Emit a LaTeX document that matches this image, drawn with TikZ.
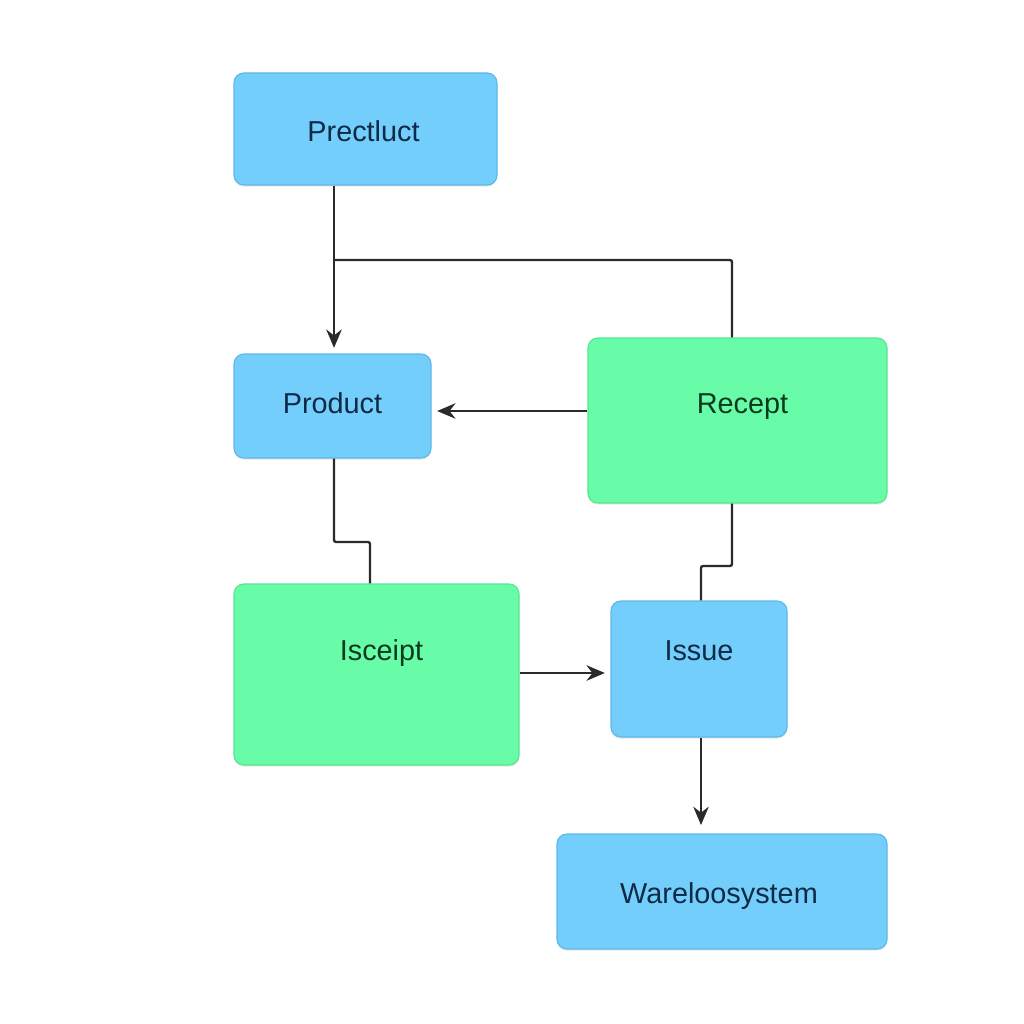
\documentclass[tikz,border=0pt]{standalone}
\usepackage{fontspec}
\setmainfont{Liberation Sans}
\usetikzlibrary{fit,arrows.meta,shadows}
\definecolor{bfill}{HTML}{74CEFB}
\definecolor{bdraw}{HTML}{5DB8E8}
\definecolor{gfill}{HTML}{69FCA8}
\definecolor{gdraw}{HTML}{56E592}
\definecolor{btext}{HTML}{0E2A47}
\definecolor{gtext}{HTML}{0B3A1E}
\definecolor{lcol}{HTML}{2A2A2A}
\tikzset{
  boxbase/.style={rounded corners=7pt, inner sep=0pt, line width=0.8pt,
    drop shadow={opacity=0.18, shadow xshift=0pt, shadow yshift=-1.2pt}},
  bluebox/.style={boxbase, fill=bfill, draw=bdraw},
  greenbox/.style={boxbase, fill=gfill, draw=gdraw},
  btxt/.style={text=btext, font=\fontsize{20.5}{24}\selectfont},
  gtxt/.style={text=gtext, font=\fontsize{20.5}{24}\selectfont},
  conn/.style={draw=lcol, line width=1.7pt, rounded corners=1.5pt},
  arr/.style={conn, shorten >=4pt, -{Stealth[length=13pt,width=11pt]}}
}
\begin{document}
\begin{tikzpicture}[x=0.025cm,y=-0.025cm]
\useasboundingbox[fill=white] (0,0) rectangle (1024,1024);
\node[bluebox, fit={(234,73) (497,185)},
  label={[btxt, shift={(-2,2)}]center:Prectluct}] (pre) {};
\node[bluebox, fit={(234,354) (431,458)},
  label={[btxt, shift={(0,-3)}]center:Product}] (prod) {};
\node[greenbox, fit={(588,338) (887,503)},
  label={[gtxt, shift={(5,-14)}]center:Recept}] (rec) {};
\node[greenbox, fit={(234,584) (519,765)},
  label={[gtxt, shift={(5,-21)}]center:Isceipt}] (isc) {};
\node[bluebox, fit={(611,601) (787,737)},
  label={[btxt, shift={(0,-18)}]center:Issue}] (iss) {};
\node[bluebox, fit={(557,834) (887,949)},
  label={[btxt, shift={(-3,5)}]center:Wareloosystem}] (ware) {};
\coordinate (j) at (334,260);
\draw[arr] (pre.south -| 334,0) -- (prod.north -| 334,0);
\draw[conn] (j) -- (732,260) -- (rec.north -| 732,0);
\draw[arr] (rec.west |- 0,411) -- (prod.east |- 0,411);
\draw[conn] (prod.south -| 334,0) |- (370,542) -- (isc.north -| 370,0);
\draw[arr] (isc.east |- 0,673) -- (iss.west |- 0,673);
\draw[conn] (rec.south -| 732,0) |- (701,566) -- (iss.north -| 701,0);
\draw[arr, shorten >=6pt] (iss.south -| 701,0) -- (ware.north -| 701,0);
\end{tikzpicture}
\end{document}
